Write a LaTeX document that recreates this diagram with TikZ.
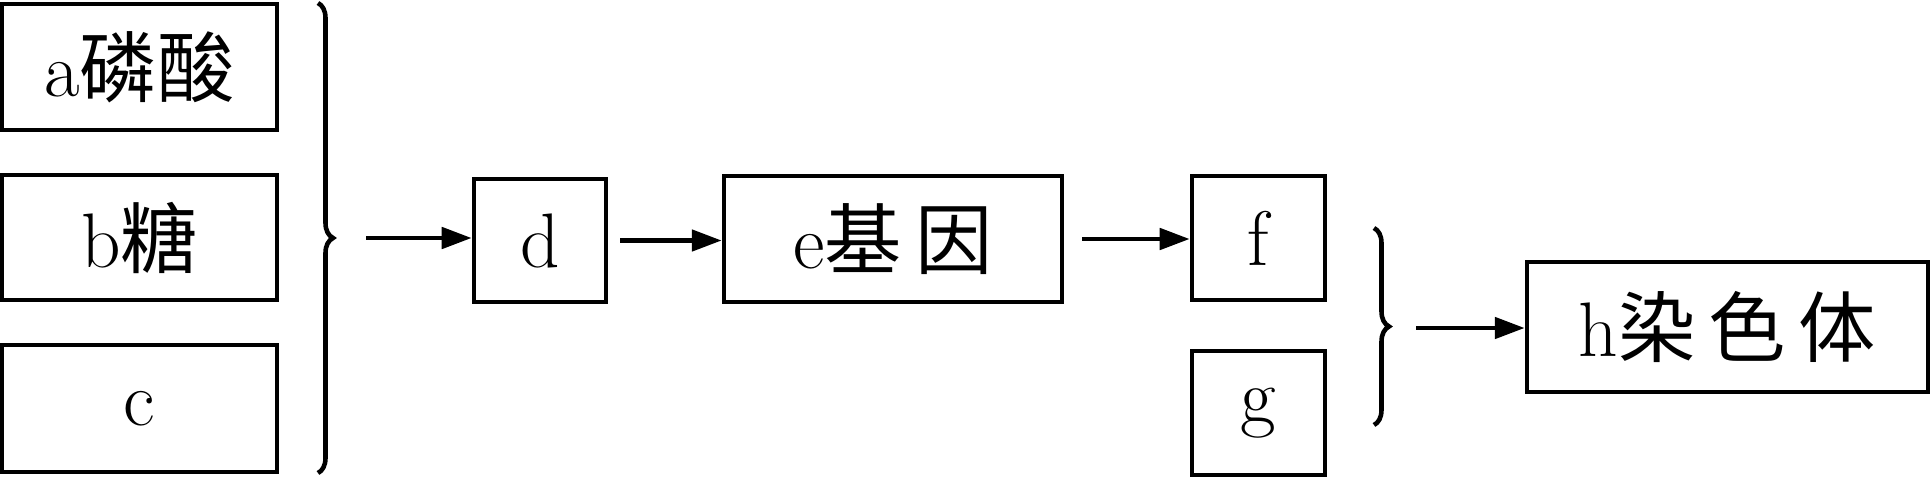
\documentclass[tikz,border=0pt]{standalone}
\usepackage{fontspec}
\newfontfamily\cjk{Noto Sans CJK SC}
\usetikzlibrary{arrows.meta,decorations.pathreplacing}
\begin{document}
\begin{tikzpicture}[x=0.02cm, y=-0.02cm, line width=2.6pt,
  box/.style={draw, line width=2.6pt, inner sep=0pt, font=\fontsize{44}{52}\selectfont},
  arr/.style={-{Triangle[length=0.6cm,width=0.42cm]}, line width=2.8pt},
  brc/.style={decorate, decoration={brace, amplitude=0.3cm}, line width=2.6pt}]
\useasboundingbox (0,0) rectangle (1931,477);
% left column
\node[box, minimum width=5.5cm, minimum height=2.52cm] (a) at (139.5,67) {a{\cjk 磷酸}};
\node[box, minimum width=5.5cm, minimum height=2.5cm] (b) at (139.5,237.5) {b{\cjk 糖}};
\node[box, minimum width=5.5cm, minimum height=2.54cm] (c) at (139.5,408.5) {c};
\draw[brc] (318,3) -- (318,473);
\coordinate (s1) at (366,238);
% middle chain
\node[box, minimum width=2.64cm, minimum height=2.46cm] (d) at (540,240.5) {d};
\node[box, minimum width=6.76cm, minimum height=2.52cm] (e) at (893,239) {e{\cjk 基\,因}};
\node[box, minimum width=2.66cm, minimum height=2.48cm] (f) at (1258.5,238) {f};
\node[box, minimum width=2.66cm, minimum height=2.48cm] (g) at (1258.5,413) {g};
\draw[brc] (1374,228) -- (1374,425);
\coordinate (s2) at (1416,328);
\node[box, minimum width=8.02cm, minimum height=2.6cm] (h) at (1727.5,327) {h{\cjk 染\,色\,体}};
% arrows
\draw[arr] (s1) -- (s1 -| d.west);
\draw[arr] (d.east) ++(0.24cm,0) coordinate (s3) -- (s3 -| e.west);
\draw[arr] (e.east) ++(0.36cm,0) coordinate (s4) -- (s4 -| f.west);
\draw[arr] (s2) -- (s2 -| h.west);
\end{tikzpicture}
\end{document}
